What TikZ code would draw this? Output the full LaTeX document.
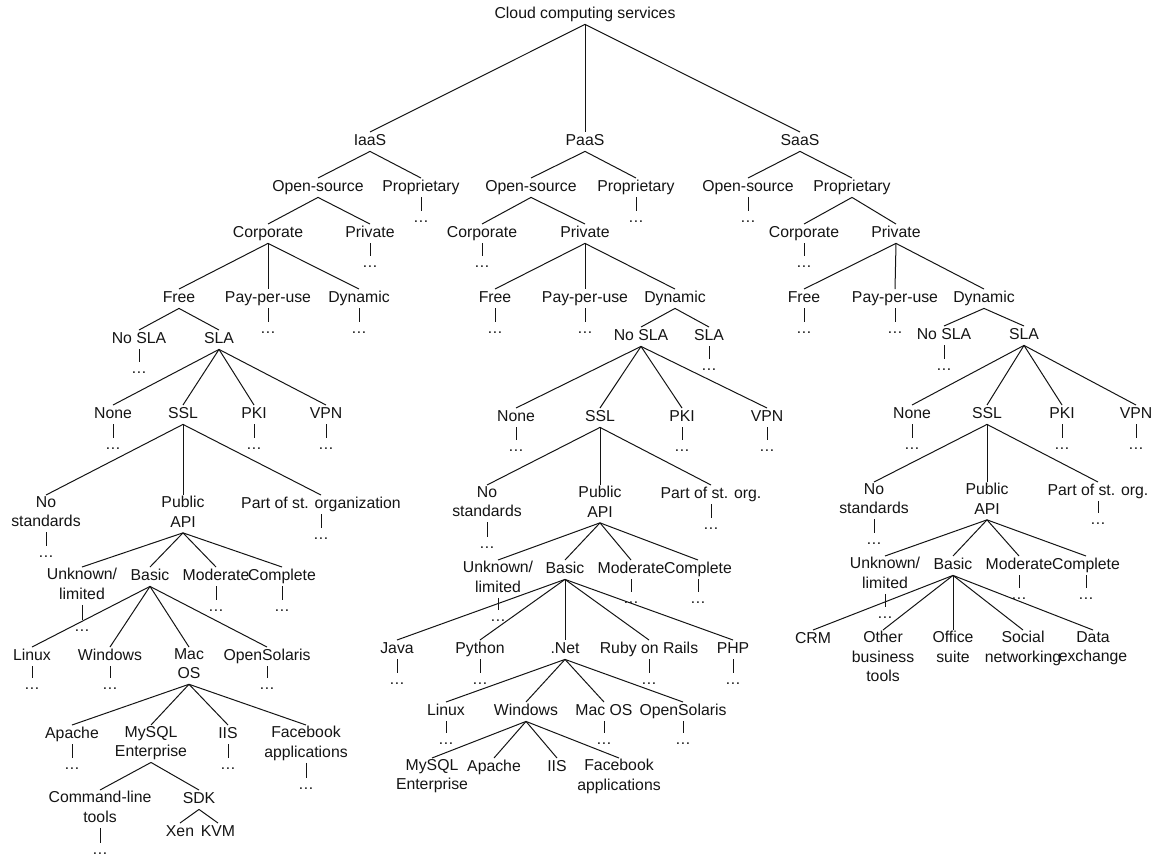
\documentclass[tikz,border=0pt]{standalone}
\usepackage{fontspec}
\setmainfont{Liberation Sans}
\newcommand{\hstrut}{\rule[-4.5pt]{0pt}{17pt}}
\newcommand{\dstrut}{\rule{0pt}{10pt}}
\begin{document}
\begin{tikzpicture}[x=1pt,y=-1pt,
  every node/.style={font=\fontsize{15.8}{19.5}\selectfont, text=black!92},
  lab/.style={anchor=north, yshift=8pt, inner sep=1pt, align=center,
    execute at begin node=\hstrut, execute at end node=\hstrut},
  dt/.style={anchor=base, yshift=-1pt, inner sep=1pt, execute at begin node=\dstrut},
  conn/.style={line width=1pt, draw=black!92}]
\useasboundingbox (0,0) rectangle (1155,860);
% root
\node[lab] (C) at (585,13) {Cloud computing services};
\node[lab] (Ia) at (370,140) {IaaS};
\node[lab] (Pa) at (585,140) {PaaS};
\node[lab] (Sa) at (800,140) {SaaS};
% IaaS
\node[lab] (aOS) at (318,186) {Open-source};
\node[lab] (aPR) at (421,186) {Proprietary};
\node[dt] (aPRd) at (421,221) {…};
\node[lab] (aCO) at (268,232) {Corporate};
\node[lab] (aPV) at (370,232) {Private};
\node[dt] (aPVd) at (370,266) {…};
\node[lab] (aFR) at (179,297) {Free};
\node[lab] (aPP) at (268,297) {Pay-per-use};
\node[dt] (aPPd) at (268,332) {…};
\node[lab] (aDY) at (359,297) {Dynamic};
\node[dt] (aDYd) at (359,332) {…};
\node[lab] (aNS) at (139,338) {No SLA};
\node[dt] (aNSd) at (139,372) {…};
\node[lab] (aSL) at (219,338) {SLA};
\node[lab] (aNo) at (113,413) {None};
\node[dt] (aNod) at (113,448) {…};
\node[lab] (aSS) at (183,413) {SSL};
\node[lab] (aPK) at (254,413) {PKI};
\node[dt] (aPKd) at (254,448) {…};
\node[lab] (aVP) at (326,413) {VPN};
\node[dt] (aVPd) at (326,448) {…};
\node[lab] (aNt) at (46,503) {No\\standards};
\node[dt] (aNtd) at (46,556) {…};
\node[lab] (aPA) at (183,503) {Public\\API};
\node[lab] (aPt) at (321,503) {Part of st. organization};
\node[dt] (aPtd) at (321,538) {…};
\node[lab] (aUn) at (82,575) {Unknown/\\limited};
\node[dt] (aUnd) at (82,630) {…};
\node[lab] (aBa) at (150,575) {Basic};
\node[lab] (aMo) at (216,575) {Moderate};
\node[dt] (aMod) at (216,610) {…};
\node[lab] (aCm) at (282,575) {Complete};
\node[dt] (aCmd) at (282,610) {…};
\node[lab] (aLi) at (32,655) {Linux};
\node[dt] (aLid) at (32,688) {…};
\node[lab] (aWi) at (110,655) {Windows};
\node[dt] (aWid) at (110,688) {…};
\node[lab] (aMa) at (189,655) {Mac\\OS};
\node[lab] (aOp) at (267,655) {OpenSolaris};
\node[dt] (aOpd) at (267,688) {…};
\node[lab] (aAp) at (72,733) {Apache};
\node[dt] (aApd) at (72,768) {…};
\node[lab] (aMy) at (151,733) {MySQL\\Enterprise};
\node[lab] (aII) at (228,733) {IIS};
\node[dt] (aIId) at (228,768) {…};
\node[lab] (aFb) at (306,733) {Facebook\\applications};
\node[dt] (aFbd) at (306,788) {…};
\node[lab] (aCl) at (100,798) {Command-line\\tools};
\node[dt] (aCld) at (100,853) {…};
\node[lab] (aSD) at (199,798) {SDK};
\node[lab] (aXe) at (180,831) {Xen};
\node[lab] (aKV) at (218,831) {KVM};
% PaaS
\node[lab] (bOS) at (531,186) {Open-source};
\node[lab] (bPR) at (636,186) {Proprietary};
\node[dt] (bPRd) at (636,221) {…};
\node[lab] (bCO) at (482,232) {Corporate};
\node[dt] (bCOd) at (482,266) {…};
\node[lab] (bPV) at (585,232) {Private};
\node[lab] (bFR) at (495,297) {Free};
\node[dt] (bFRd) at (495,332) {…};
\node[lab] (bPP) at (585,297) {Pay-per-use};
\node[dt] (bPPd) at (585,332) {…};
\node[lab] (bDY) at (675,297) {Dynamic};
\node[lab] (bNS) at (641,335) {No SLA};
\node[lab] (bSL) at (709,335) {SLA};
\node[dt] (bSLd) at (709,369) {…};
\node[lab] (bNo) at (516,416) {None};
\node[dt] (bNod) at (516,450) {…};
\node[lab] (bSS) at (600,416) {SSL};
\node[lab] (bPK) at (682,416) {PKI};
\node[dt] (bPKd) at (682,450) {…};
\node[lab] (bVP) at (767,416) {VPN};
\node[dt] (bVPd) at (767,450) {…};
\node[lab] (bNt) at (487,493) {No\\standards};
\node[dt] (bNtd) at (487,547) {…};
\node[lab] (bPA) at (600,493) {Public\\API};
\node[lab] (bPt) at (711,493) {Part of st. org.};
\node[dt] (bPtd) at (711,528) {…};
\node[lab] (bUn) at (498,568) {Unknown/\\limited};
\node[dt] (bUnd) at (498,620) {…};
\node[lab] (bBa) at (565,568) {Basic};
\node[lab] (bMo) at (631,568) {Moderate};
\node[dt] (bMod) at (631,602) {…};
\node[lab] (bCm) at (698,568) {Complete};
\node[dt] (bCmd) at (698,602) {…};
\node[lab] (bJa) at (397,648) {Java};
\node[dt] (bJad) at (397,683) {…};
\node[lab] (bPy) at (480,648) {Python};
\node[dt] (bPyd) at (480,683) {…};
\node[lab] (bNe) at (565,648) {.Net};
\node[lab] (bRu) at (649,648) {Ruby on Rails};
\node[dt] (bRud) at (649,683) {…};
\node[lab] (bPH) at (733,648) {PHP};
\node[dt] (bPHd) at (733,683) {…};
\node[lab] (bLi) at (446,710) {Linux};
\node[dt] (bLid) at (446,743) {…};
\node[lab] (bWi) at (526,710) {Windows};
\node[lab] (bMa) at (604,710) {Mac OS};
\node[dt] (bMad) at (604,743) {…};
\node[lab] (bOp) at (683,710) {OpenSolaris};
\node[dt] (bOpd) at (683,743) {…};
\node[lab] (bMy) at (432,766) {MySQL\\Enterprise};
\node[lab] (bAp) at (494,766) {Apache};
\node[lab] (bII) at (557,766) {IIS};
\node[lab] (bFb) at (619,766) {Facebook\\applications};
% SaaS
\node[lab] (cOS) at (748,186) {Open-source};
\node[dt] (cOSd) at (748,221) {…};
\node[lab] (cPR) at (852,186) {Proprietary};
\node[lab] (cCO) at (804,232) {Corporate};
\node[dt] (cCOd) at (804,266) {…};
\node[lab] (cPV) at (896,232) {Private};
\node[lab] (cFR) at (804,297) {Free};
\node[dt] (cFRd) at (804,332) {…};
\node[lab] (cPP) at (895,297) {Pay-per-use};
\node[dt] (cPPd) at (895,332) {…};
\node[lab] (cDY) at (984,297) {Dynamic};
\node[lab] (cNS) at (944,334) {No SLA};
\node[dt] (cNSd) at (944,369) {…};
\node[lab] (cSL) at (1024,334) {SLA};
\node[lab] (cNo) at (912,413) {None};
\node[dt] (cNod) at (912,448) {…};
\node[lab] (cSS) at (987,413) {SSL};
\node[lab] (cPK) at (1062,413) {PKI};
\node[dt] (cPKd) at (1062,448) {…};
\node[lab] (cVP) at (1136,413) {VPN};
\node[dt] (cVPd) at (1136,448) {…};
\node[lab] (cNt) at (874,490) {No\\standards};
\node[dt] (cNtd) at (874,543) {…};
\node[lab] (cPA) at (987,490) {Public\\API};
\node[lab] (cPt) at (1098,490) {Part of st. org.};
\node[dt] (cPtd) at (1098,523) {…};
\node[lab] (cUn) at (885,564) {Unknown/\\limited};
\node[dt] (cUnd) at (885,617) {…};
\node[lab] (cBa) at (953,564) {Basic};
\node[lab] (cMo) at (1019,564) {Moderate};
\node[dt] (cMod) at (1019,598) {…};
\node[lab] (cCm) at (1086,564) {Complete};
\node[dt] (cCmd) at (1086,598) {…};
\node[lab] (cCR) at (813,638) {CRM};
\node[lab] (cOt) at (883,638) {Other\\business\\tools};
\node[lab] (cOf) at (953,638) {Office\\suite};
\node[lab] (cSo) at (1023,638) {Social\\networking};
\node[lab] (cDa) at (1093,638) {Data\\exchange};
% connectors
\foreach \p/\c in {C/Ia, C/Pa, C/Sa,
  Ia/aOS, Ia/aPR, aPR/aPRd, aOS/aCO, aOS/aPV, aPV/aPVd, aCO/aFR, aCO/aPP, aCO/aDY,
  aPP/aPPd, aDY/aDYd, aFR/aNS, aFR/aSL, aNS/aNSd, aSL/aNo, aSL/aSS, aSL/aPK, aSL/aVP,
  aNo/aNod, aPK/aPKd, aVP/aVPd, aSS/aNt, aSS/aPA, aSS/aPt, aNt/aNtd, aPt/aPtd,
  aPA/aUn, aPA/aBa, aPA/aMo, aPA/aCm, aUn/aUnd, aMo/aMod, aCm/aCmd,
  aBa/aLi, aBa/aWi, aBa/aMa, aBa/aOp, aLi/aLid, aWi/aWid, aOp/aOpd,
  aMa/aAp, aMa/aMy, aMa/aII, aMa/aFb, aAp/aApd, aII/aIId, aFb/aFbd,
  aMy/aCl, aMy/aSD, aCl/aCld, aSD/aXe, aSD/aKV,
  Pa/bOS, Pa/bPR, bPR/bPRd, bOS/bCO, bOS/bPV, bCO/bCOd, bPV/bFR, bPV/bPP, bPV/bDY,
  bFR/bFRd, bPP/bPPd, bDY/bNS, bDY/bSL, bSL/bSLd, bNS/bNo, bNS/bSS, bNS/bPK, bNS/bVP,
  bNo/bNod, bPK/bPKd, bVP/bVPd, bSS/bNt, bSS/bPA, bSS/bPt, bNt/bNtd, bPt/bPtd,
  bPA/bUn, bPA/bBa, bPA/bMo, bPA/bCm, bUn/bUnd, bMo/bMod, bCm/bCmd,
  bBa/bJa, bBa/bPy, bBa/bNe, bBa/bRu, bBa/bPH, bJa/bJad, bPy/bPyd, bRu/bRud, bPH/bPHd,
  bNe/bLi, bNe/bWi, bNe/bMa, bNe/bOp, bLi/bLid, bMa/bMad, bOp/bOpd,
  bWi/bMy, bWi/bAp, bWi/bII, bWi/bFb,
  Sa/cOS, Sa/cPR, cOS/cOSd, cPR/cCO, cPR/cPV, cCO/cCOd, cPV/cFR, cPV/cPP, cPV/cDY,
  cFR/cFRd, cPP/cPPd, cDY/cNS, cDY/cSL, cNS/cNSd, cSL/cNo, cSL/cSS, cSL/cPK, cSL/cVP,
  cNo/cNod, cPK/cPKd, cVP/cVPd, cSS/cNt, cSS/cPA, cSS/cPt, cNt/cNtd, cPt/cPtd,
  cPA/cUn, cPA/cBa, cPA/cMo, cPA/cCm, cUn/cUnd, cMo/cMod, cCm/cCmd,
  cBa/cCR, cBa/cOt, cBa/cOf, cBa/cSo, cBa/cDa}
  \draw[conn] (\p.south) -- (\c.north);
\end{tikzpicture}
\end{document}
